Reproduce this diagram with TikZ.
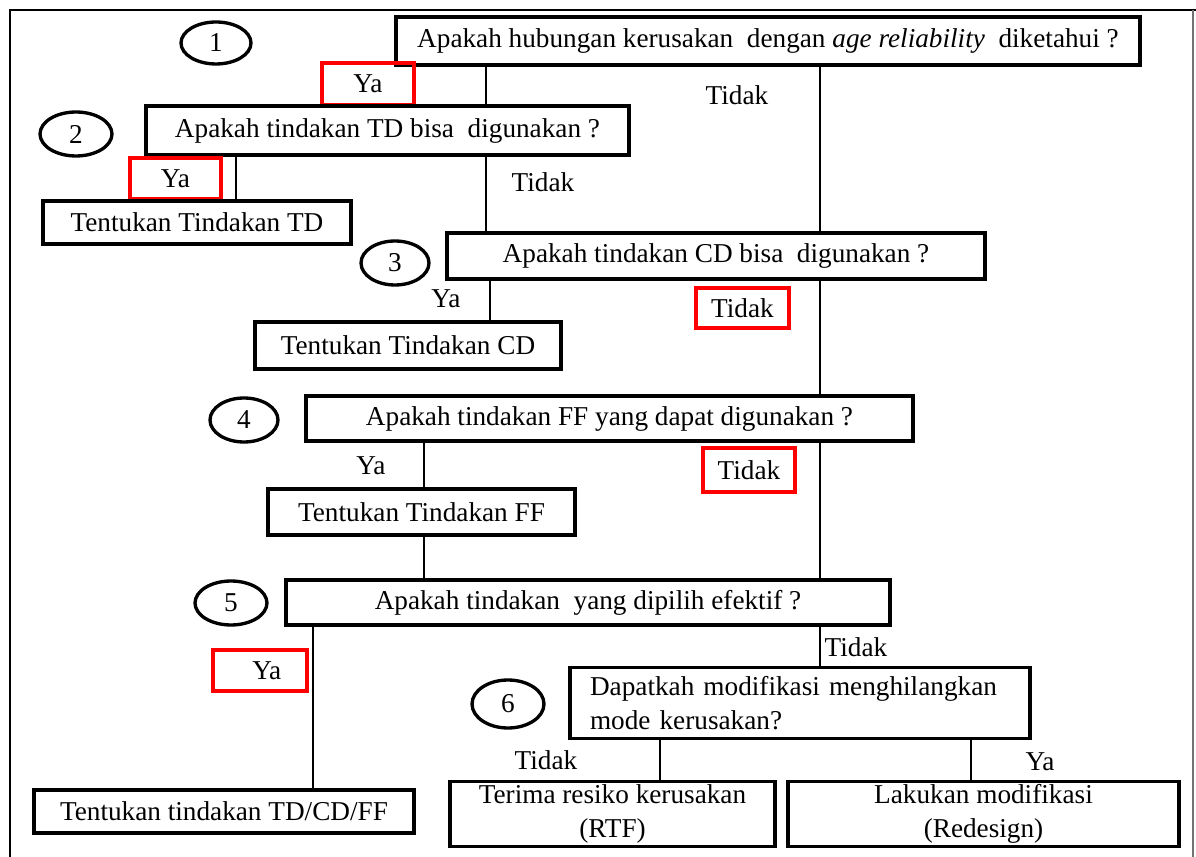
\documentclass[tikz,border=0pt]{standalone}
\usepackage{fontspec}
\setmainfont{Liberation Serif}
\usetikzlibrary{shapes.geometric}

\begin{document}
\begin{tikzpicture}[x=0.02cm, y=-0.02cm, font=\fontsize{15.5}{19}\selectfont,
  kotak/.style={draw, line width=2.2pt, inner sep=0pt, outer sep=0pt},
  merah/.style={draw=red, line width=2.2pt, inner sep=0pt, outer sep=0pt},
  nomor/.style={ellipse, draw, line width=1.9pt, inner sep=0pt},
  garis/.style={line width=0.7pt}]

\useasboundingbox (0,0) rectangle (1196,857);

% bingkai luar
\draw [line width=1.6pt] (1196,10) -- (10,10) -- (10,880);
\draw [line width=0.8pt, black!55] (1193,10) -- (1193,880);

% pertanyaan 1
\node[kotak] (q1) at (768,41) [minimum width=14.88cm, minimum height=0.96cm] {Apakah hubungan kerusakan~ dengan \textit{age reliability}~ diketahui ?};
\node[nomor] (n1) at (216,43) [minimum width=1.4cm, minimum height=0.84cm] {1};
\node[merah] (ya1) at (368,84) [minimum width=1.84cm, minimum height=0.84cm] {Ya};
\node (tidak1) at (737,95) {Tidak};

% pertanyaan 2
\node[kotak] (q2) at (387.5,130.5) [minimum width=9.66cm, minimum height=0.98cm] {Apakah tindakan TD bisa~ digunakan ?};
\node[nomor] (n2) at (76,134) [minimum width=1.44cm, minimum height=0.88cm] {2};
\node[merah] (ya2) at (175.5,178.5) [minimum width=1.82cm, minimum height=0.82cm] {Ya};
\node (tidak2) at (543,182) {Tidak};
\node[kotak] (td) at (197,222.5) [minimum width=6.16cm, minimum height=0.86cm] {Tentukan Tindakan TD};

% pertanyaan 3
\node[kotak] (q3) at (716,256) [minimum width=10.76cm, minimum height=0.92cm] {Apakah tindakan CD bisa~ digunakan ?};
\node[nomor] (n3) at (395,263) [minimum width=1.36cm, minimum height=0.88cm] {3};
\node (ya3) at (446,299) {Ya};
\node[merah] (tidak3) at (742.5,308) [minimum width=1.86cm, minimum height=0.8cm] {Tidak};
\node[kotak] (cd) at (408,345.5) [minimum width=6.12cm, minimum height=0.94cm] {Tentukan Tindakan CD};

% pertanyaan 4
\node[kotak] (q4) at (609.5,418.5) [minimum width=12.14cm, minimum height=0.9cm] {Apakah tindakan FF yang dapat digunakan ?};
\node[nomor] (n4) at (244,420) [minimum width=1.36cm, minimum height=0.88cm] {4};
\node (ya4) at (371,466) {Ya};
\node[merah] (tidak4) at (749,470) [minimum width=1.84cm, minimum height=0.88cm] {Tidak};
\node[kotak] (ff) at (421.5,512) [minimum width=6.14cm, minimum height=0.92cm] {Tentukan Tindakan FF};

% pertanyaan 5
\node[kotak] (q5) at (588,602.5) [minimum width=12.08cm, minimum height=0.9cm] {Apakah tindakan~ yang dipilih efektif ?};
\node[nomor] (n5) at (231,603) [minimum width=1.44cm, minimum height=0.88cm] {5};
\node[merah] (ya5) at (260,670.5) [minimum width=1.88cm, minimum height=0.82cm] {~~Ya};
\node (tidak5) at (856,647) {Tidak};
\node[kotak] (tdcdff) at (224,811.5) [minimum width=7.6cm, minimum height=0.86cm] {Tentukan tindakan TD/CD/FF};

% pertanyaan 6
\node[kotak, align=left, text width=8.4cm] (q6) at (800,703) [minimum width=9.2cm, minimum height=1.42cm] {Dapatkah modifikasi menghilangkan\\mode kerusakan?};
\node[nomor] (n6) at (508,704) [minimum width=1.44cm, minimum height=0.96cm] {6};
\node (tidak6) at (546,760) {Tidak};
\node (ya6) at (1040,762) {Ya};
\node[kotak, align=center] (rtf) at (612.5,814) [minimum width=6.5cm, minimum height=1.3cm] {Terima resiko kerusakan\\(RTF)};
\node[kotak, align=center] (redesign) at (983.5,814) [minimum width=7.82cm, minimum height=1.3cm] {Lakukan modifikasi\\(Redesign)};

% posisi garis tegak
\coordinate (xa) at (486,0);
\coordinate (xb) at (820,0);
\coordinate (xc) at (236,0);
\coordinate (xd) at (490,0);
\coordinate (xe) at (424,0);
\coordinate (xf) at (313,0);
\coordinate (xg) at (660,0);
\coordinate (xh) at (971,0);

\draw[garis] (q1.south -| xa) -- (q2.north -| xa);
\draw[garis] (q2.south -| xa) -- (q3.north -| xa);
\draw[garis] (q1.south -| xb) -- (q3.north -| xb);
\draw[garis] (q3.south -| xb) -- (q4.north -| xb);
\draw[garis] (q4.south -| xb) -- (q5.north -| xb);
\draw[garis] (q5.south -| xb) -- (q6.north -| xb);
\draw[garis] (q2.south -| xc) -- (td.north -| xc);
\draw[garis] (q3.south -| xd) -- (cd.north -| xd);
\draw[garis] (q4.south -| xe) -- (ff.north -| xe);
\draw[garis] (ff.south -| xe) -- (q5.north -| xe);
\draw[garis] (q5.south -| xf) -- (tdcdff.north -| xf);
\draw[garis] (q6.south -| xg) -- (rtf.north -| xg);
\draw[garis] (q6.south -| xh) -- (redesign.north -| xh);

\end{tikzpicture}
\end{document}
